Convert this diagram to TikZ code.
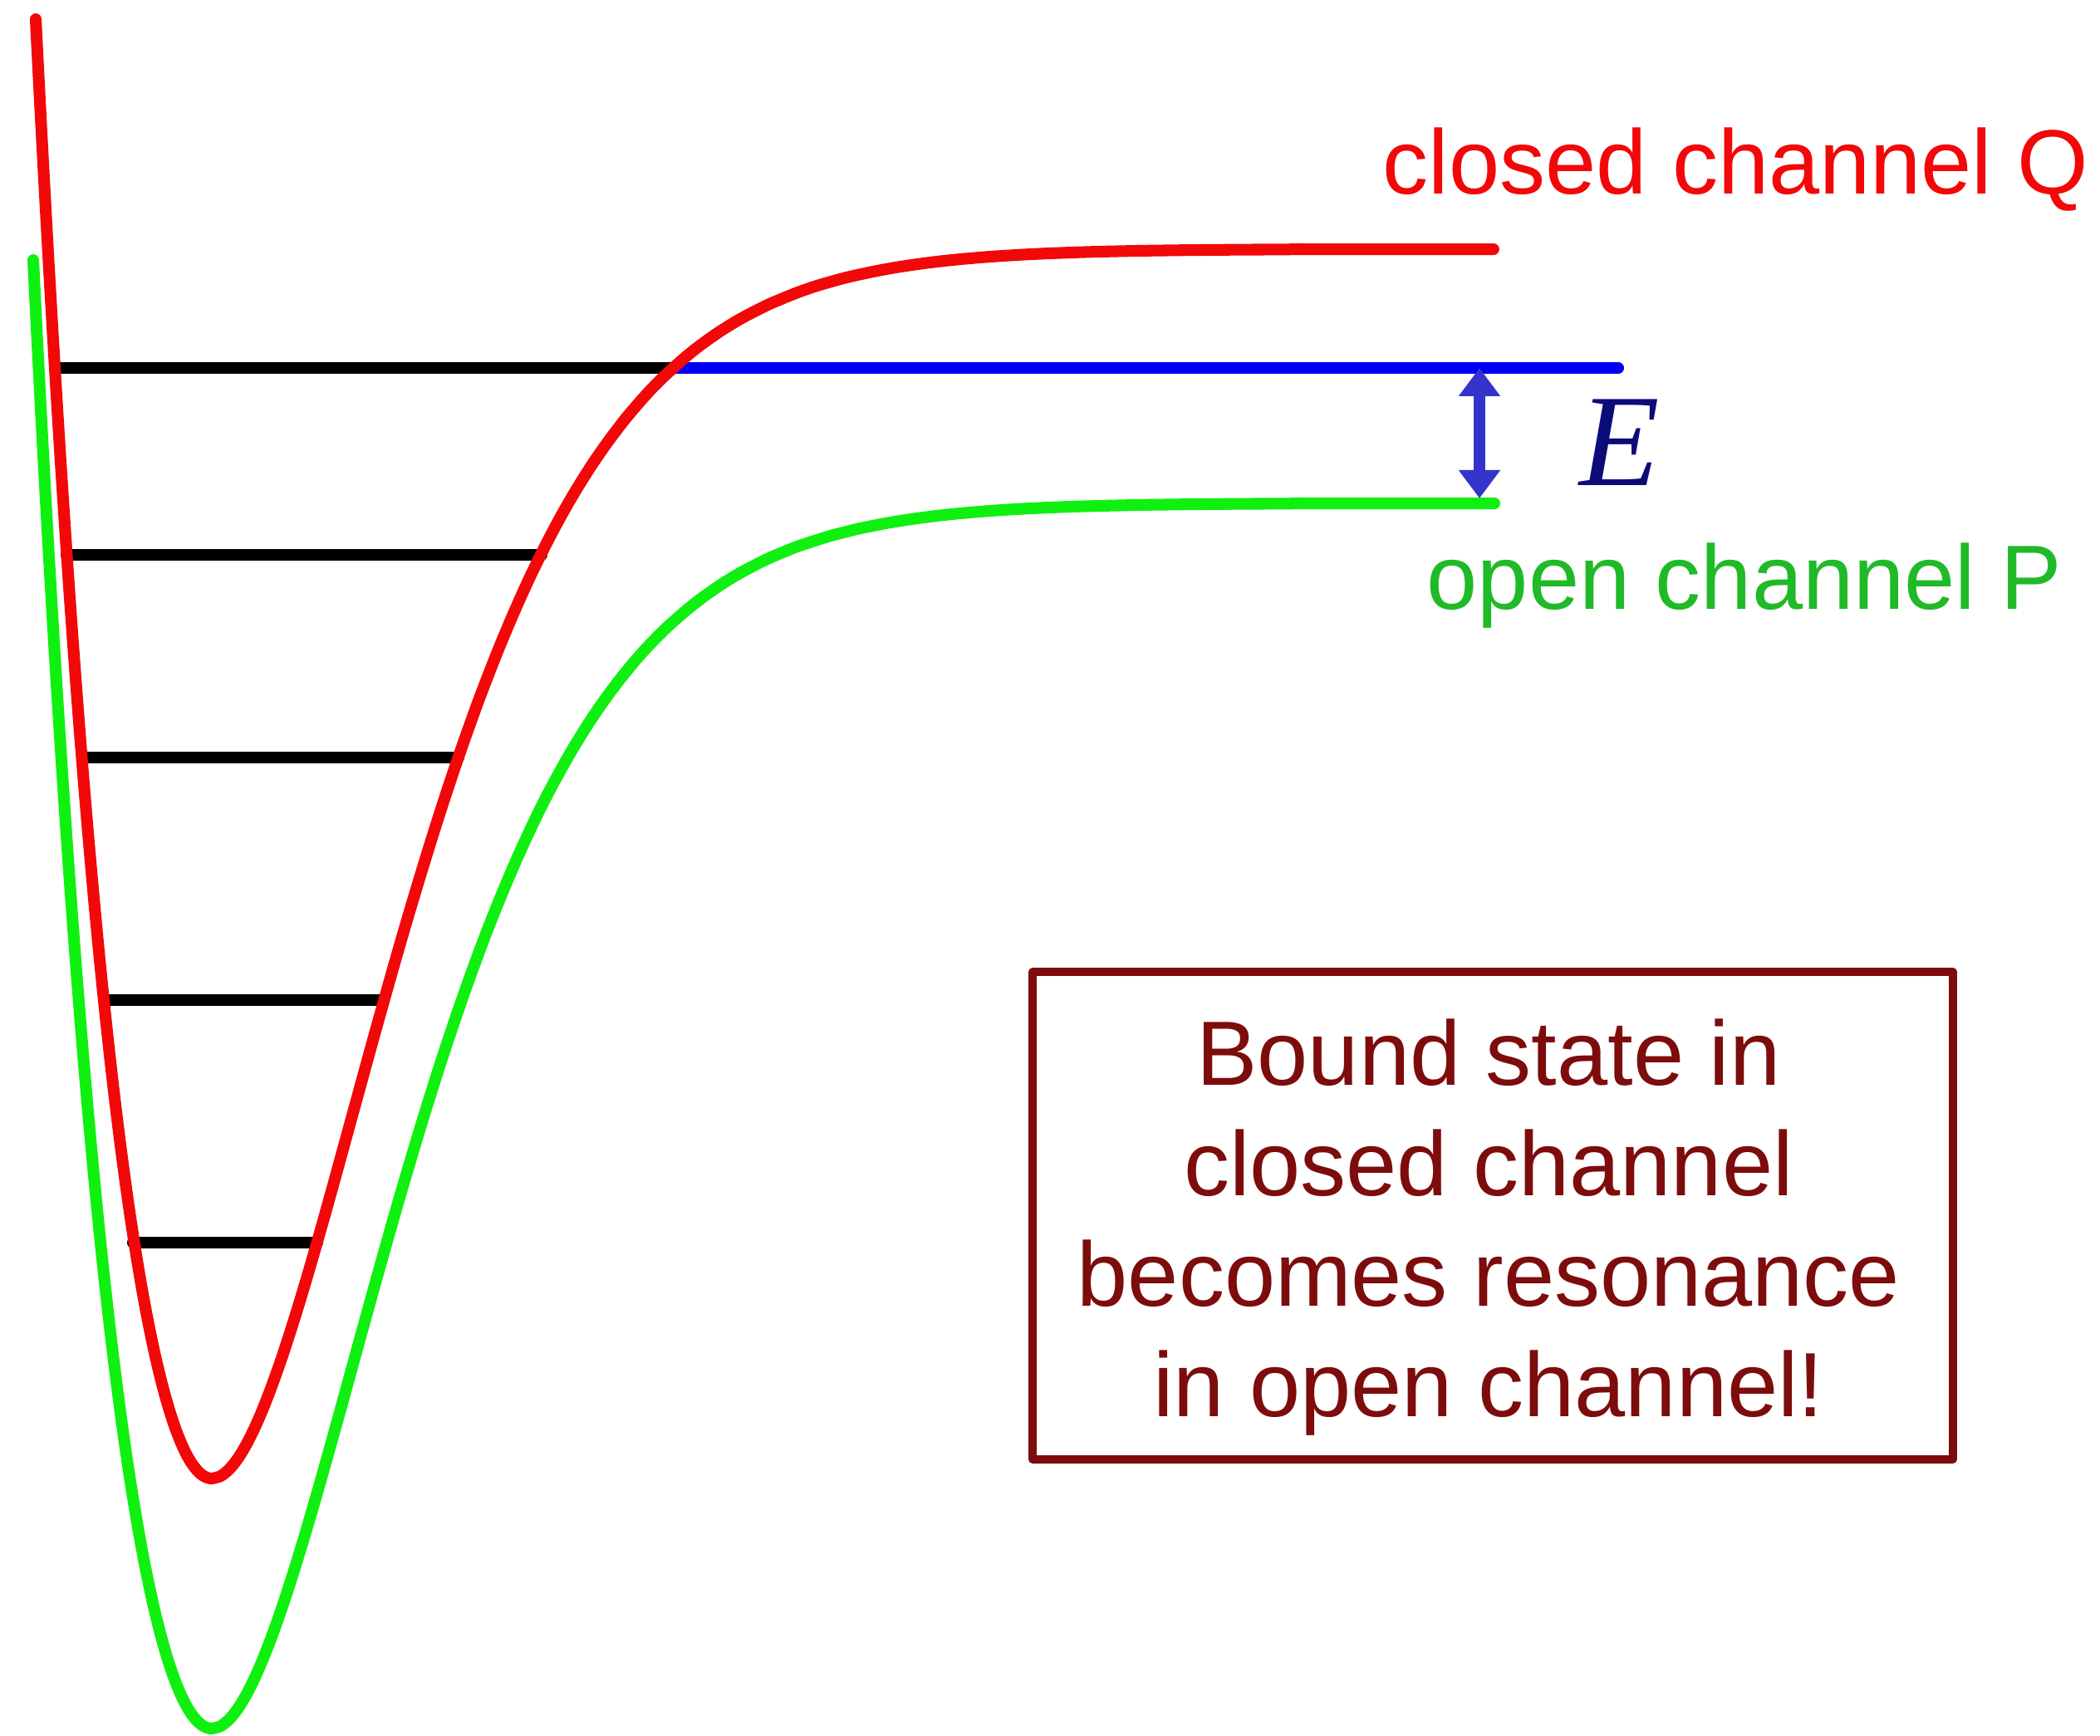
\documentclass[tikz,border=0pt]{standalone}
\usepackage{fontspec}
\setmainfont{Liberation Sans}
\newfontfamily\timesfont{Liberation Serif}
\usetikzlibrary{arrows.meta}
\definecolor{qred}{RGB}{242,8,8}
\definecolor{pgreen}{RGB}{16,240,16}
\definecolor{ptext}{RGB}{32,186,40}
\definecolor{lvlblue}{RGB}{0,0,240}
\definecolor{arrblue}{RGB}{52,52,204}
\definecolor{enavy}{RGB}{12,12,120}
\definecolor{maroon}{RGB}{125,12,12}
\tikzset{
  curve/.style={line width=4pt},
  level/.style={line width=4pt,black},
  chanlabel/.style={font=\fontsize{31.3}{38}\selectfont,inner sep=0pt,anchor=base west},
  noteframe/.style={draw=maroon,line width=2.6pt,minimum width=11.08cm,minimum height=5.87cm},
  notetext/.style={text=maroon,align=center,inner sep=0pt,font=\fontsize{31.3}{37.8}\selectfont}
}
\begin{document}
\begin{tikzpicture}[line join = round, line cap = round]
			\useasboundingbox (0,0) rectangle (25.28,20.89);
			\def \xo{2.55};
			\def \Elevel{16.46};
			% bound levels of the closed channel
			\draw[level] (0.80,14.21) -- (6.52,14.21);
			\draw[level] (0.99,11.77) -- (5.52,11.77);
			\draw[level] (1.26,8.85) -- (4.62,8.85);
			\draw[level] (1.60,5.93) -- (3.82,5.93);
			\draw[level] (0.66,\Elevel) -- (8.10,\Elevel);
			\draw[level,lvlblue] (8.10,\Elevel) -- (19.48,\Elevel);
			% open channel P
			\draw[curve,pgreen] plot[smooth,samples=80,domain=0.40:\xo] (\x,{0.08+2.9*(\x-\xo)*(\x-\xo)+0.2*(\x-\xo)*(\x-\xo)*(\x-\xo)*(\x-\xo)})
				-- plot[smooth,samples=150,domain=\xo:17.99] (\x,{0.08+14.75*(1-exp(-(0.43+0.02*(\x-\xo))*(\x-\xo)))^2});
			% closed channel Q
			\draw[curve,qred] plot[smooth,samples=80,domain=0.43:\xo] (\x,{3.09+3.1*(\x-\xo)*(\x-\xo)+0.18*(\x-\xo)*(\x-\xo)*(\x-\xo)*(\x-\xo)})
				-- plot[smooth,samples=150,domain=\xo:17.98] (\x,{3.09+14.8*(1-exp(-(0.43+0.02*(\x-\xo))*(\x-\xo)))^2});
			% energy above threshold
			\coordinate (etop) at (17.81,\Elevel);
			\coordinate (ebot) at (17.81,14.89);
			\draw[arrblue,line width=4.2pt,line cap=butt,{Triangle[width=0.48cm,length=0.34cm]}-{Triangle[width=0.48cm,length=0.34cm]}] (etop) -- (ebot);
			\node[enavy,inner sep=0pt,font=\timesfont\itshape\fontsize{45}{50}\selectfont] (elabel) at (19.50,15.56) {E};
			\node[chanlabel,qred] (qlabel) at (16.64,18.55) {closed channel Q};
			\node[chanlabel,ptext] (plabel) at (17.17,13.55) {open channel P};
			\node[noteframe] (frame) at (17.97,6.255) {};
			\node[notetext] (note) at ([xshift=-0.05cm,yshift=-0.14cm]frame.center) {Bound state in\\closed channel\\becomes resonance\\in open channel!};
		\end{tikzpicture}
\end{document}
